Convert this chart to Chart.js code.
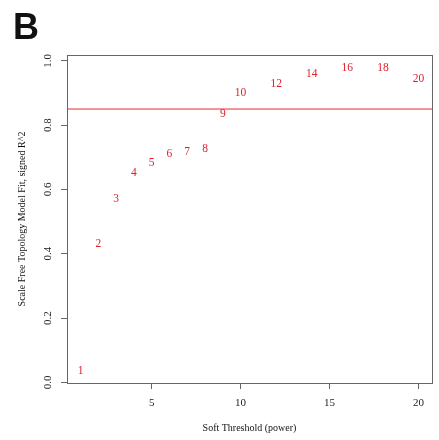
<!DOCTYPE html>
<html>
<head>
<meta charset="utf-8">
<script src="https://cdn.jsdelivr.net/npm/chart.js@4"></script>
<style>
  body { margin: 0; background: #fff; }
  #wrap { width: 439px; height: 440px; }
</style>
</head>
<body>
<div id="wrap"><canvas id="sftChart" width="439" height="440"></canvas></div>
<script>
// soft threshold powers and signed scale-free fit R^2
const powers = [1, 2, 3, 4, 5, 6, 7, 8, 9, 10, 12, 14, 16, 18, 20];
const fitR2 = [0.034, 0.431, 0.571, 0.650, 0.683, 0.710, 0.717, 0.725, 0.834, 0.899, 0.927, 0.958, 0.979, 0.979, 0.943];
const cutoffR2 = 0.85;
const xTicks = [5, 10, 15, 20];
const yTicks = [0.0, 0.2, 0.4, 0.6, 0.8, 1.0];
const xRange = [0.24, 20.76];
const yRange = [-0.002, 1.018];

const serif = 'Liberation Serif';
const frameGray = '#666';
const labelRed = '#e0202e';

// numbers drawn in place of points, plus the panel letter and plot box
const labelPlugin = {
    id: 'labelPlugin',
    afterDatasetsDraw(chart) {
        const ctx = chart.ctx;
        const meta = chart.getDatasetMeta(1);
        ctx.save();
        ctx.font = '11.5px "' + serif + '"';
        ctx.fillStyle = labelRed;
        ctx.textAlign = 'center';
        ctx.textBaseline = 'middle';
        meta.data.forEach(function(el, i) {
            ctx.fillText(String(powers[i]), el.x, el.y);
        });
        ctx.restore();
    },
    afterDraw(chart) {
        const ctx = chart.ctx;
        const a = chart.chartArea;
        ctx.save();
        ctx.strokeStyle = frameGray;
        ctx.lineWidth = 1;
        ctx.strokeRect(Math.round(a.left) + 0.5, Math.round(a.top) + 0.5,
            Math.round(a.right - a.left), Math.round(a.bottom - a.top));
        ctx.font = 'bold 36px "Liberation Sans"';
        ctx.fillStyle = '#111';
        ctx.textAlign = 'left';
        ctx.textBaseline = 'alphabetic';
        ctx.fillText('B', 13, 39);
        ctx.restore();
    }
};

const ctx = document.getElementById('sftChart').getContext('2d');
new Chart(ctx, {
    type: 'scatter',
    data: {
        datasets: [{
            type: 'line',
            data: [{ x: xRange[0], y: cutoffR2 }, { x: xRange[1], y: cutoffR2 }],
            borderColor: '#e8262e',
            borderWidth: 1,
            pointRadius: 0,
            fill: false
        }, {
            data: powers.map(function(p, i) { return { x: p, y: fitR2[i] }; }),
            pointRadius: 0,
            pointHoverRadius: 0
        }]
    },
    options: {
        responsive: false,
        animation: false,
        events: [],
        layout: { padding: { top: 55, right: 7, left: 0, bottom: 0 } },
        plugins: {
            legend: { display: false },
            tooltip: { enabled: false }
        },
        scales: {
            x: {
                type: 'linear',
                min: xRange[0],
                max: xRange[1],
                afterBuildTicks: function(scale) {
                    scale.ticks = xTicks.map(function(v) { return { value: v }; });
                },
                afterFit: function(scale) { scale.height = 57; },
                border: { display: false },
                grid: { drawOnChartArea: false, drawTicks: true, tickLength: 6, color: frameGray },
                ticks: {
                    color: '#222',
                    padding: 8,
                    maxRotation: 0,
                    font: { family: serif, size: 11 },
                    callback: function(v) { return String(v); }
                },
                title: {
                    display: true,
                    text: 'Soft Threshold (power)',
                    color: '#111',
                    font: { family: serif, size: 10 },
                    padding: { top: 0, bottom: 6 }
                }
            },
            y: {
                type: 'linear',
                min: yRange[0],
                max: yRange[1],
                afterBuildTicks: function(scale) {
                    scale.ticks = yTicks.map(function(v) { return { value: v }; });
                },
                afterFit: function(scale) { scale.width = 67; },
                border: { display: false },
                grid: { drawOnChartArea: false, drawTicks: true, tickLength: 6, color: frameGray },
                ticks: {
                    color: '#222',
                    padding: 6,
                    minRotation: 90,
                    maxRotation: 90,
                    crossAlign: 'center',
                    font: { family: serif, size: 11 },
                    callback: function(v) { return Number(v).toFixed(1); }
                },
                title: {
                    display: true,
                    text: 'Scale Free Topology Model Fit, signed R^2',
                    color: '#111',
                    font: { family: serif, size: 10 },
                    padding: { top: 16, bottom: 0 }
                }
            }
        }
    },
    plugins: [labelPlugin]
});
</script>
</body>
</html>
